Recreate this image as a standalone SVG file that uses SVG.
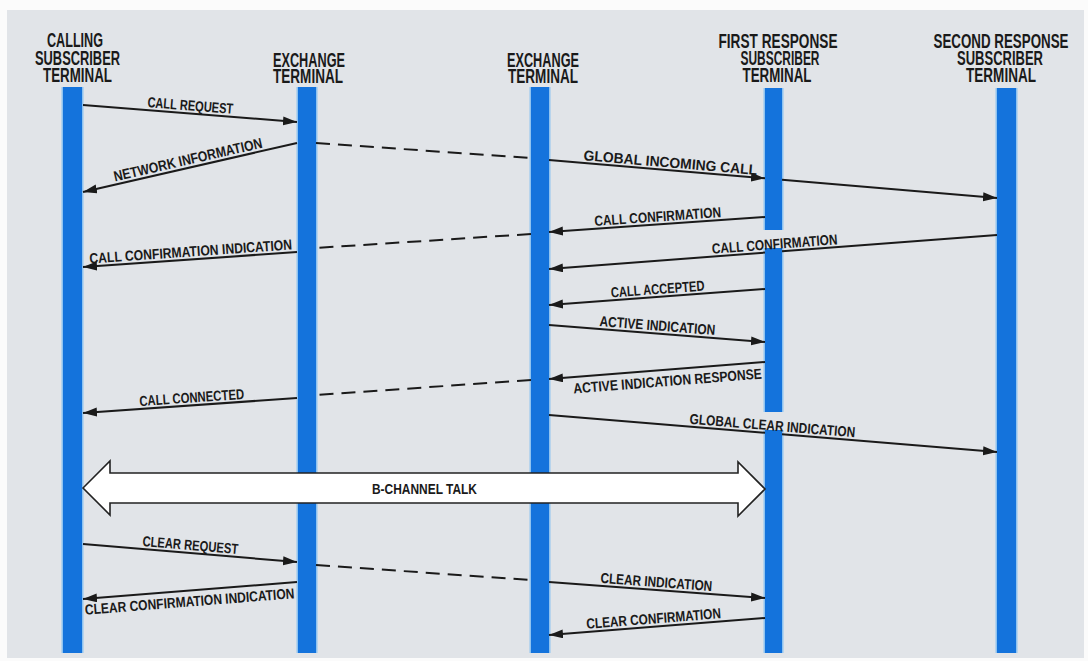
<svg xmlns="http://www.w3.org/2000/svg" width="1088" height="661" viewBox="0 0 1088 661">
<defs>
<style>
.bg{fill:#e1e4e8}
.bar{fill:#1473dc}
.halo{fill:#8fc3f0}
.hdr{font-family:"Liberation Sans Narrow","Liberation Sans",Arial,sans-serif;font-weight:bold;font-size:19.5px;fill:#1a1a1a;text-anchor:middle}
.msg{font-family:"Liberation Sans Narrow","Liberation Sans",Arial,sans-serif;font-weight:bold;font-size:14.5px;fill:#1a1a1a;text-anchor:middle}
.ln{stroke:#1a1a1a;stroke-width:2;fill:none}
.dash{stroke:#1a1a1a;stroke-width:2;fill:none;stroke-dasharray:14 8}
.arr{marker-end:url(#ah)}
</style>
<marker id="ah" markerUnits="userSpaceOnUse" markerWidth="15" markerHeight="10" refX="14" refY="4.5" orient="auto">
<path d="M0,0 L14,4.5 L0,9 Z" fill="#1a1a1a"/>
</marker>
</defs>
<rect width="1088" height="661" fill="#fbfbfb"/>
<rect class="bg" x="7" y="10" width="1077" height="648"/>

<g id="calling">
<text class="hdr"><tspan x="75" y="47" textLength="56" lengthAdjust="spacingAndGlyphs">CALLING</tspan><tspan x="77.5" y="65" textLength="85" lengthAdjust="spacingAndGlyphs">SUBSCRIBER</tspan><tspan x="77.5" y="82" textLength="69" lengthAdjust="spacingAndGlyphs">TERMINAL</tspan></text>
<rect class="halo" x="61.5" y="87" width="22" height="566"/>
<rect class="bar" x="63" y="87" width="19" height="566"/>
</g>
<g id="exchange1">
<text class="hdr"><tspan x="309" y="67" textLength="72" lengthAdjust="spacingAndGlyphs">EXCHANGE</tspan><tspan x="308" y="82.5" textLength="70" lengthAdjust="spacingAndGlyphs">TERMINAL</tspan></text>
<rect class="halo" x="296.5" y="87" width="21" height="566"/>
<rect class="bar" x="298" y="87" width="18" height="566"/>
</g>
<g id="exchange2">
<text class="hdr"><tspan x="543" y="67" textLength="72" lengthAdjust="spacingAndGlyphs">EXCHANGE</tspan><tspan x="543" y="82.5" textLength="70" lengthAdjust="spacingAndGlyphs">TERMINAL</tspan></text>
<rect class="halo" x="529.5" y="87" width="21" height="566"/>
<rect class="bar" x="531" y="87" width="18" height="566"/>
</g>
<g id="first-response">
<text class="hdr"><tspan x="778" y="48" textLength="119" lengthAdjust="spacingAndGlyphs">FIRST RESPONSE</tspan><tspan x="780" y="65" textLength="79" lengthAdjust="spacingAndGlyphs">SUBSCRIBER</tspan><tspan x="777" y="82" textLength="69" lengthAdjust="spacingAndGlyphs">TERMINAL</tspan></text>
<rect class="halo" x="763.5" y="88" width="20" height="142"/>
<rect class="bar" x="765" y="88" width="17" height="142"/>
<rect class="halo" x="763.5" y="248" width="20" height="164"/>
<rect class="bar" x="765" y="248" width="17" height="164"/>
<rect class="halo" x="763.5" y="430" width="20" height="223"/>
<rect class="bar" x="765" y="430" width="17" height="223"/>
</g>
<g id="second-response">
<text class="hdr"><tspan x="1001" y="48" textLength="135" lengthAdjust="spacingAndGlyphs">SECOND RESPONSE</tspan><tspan x="1000" y="65" textLength="86" lengthAdjust="spacingAndGlyphs">SUBSCRIBER</tspan><tspan x="1001" y="82" textLength="70" lengthAdjust="spacingAndGlyphs">TERMINAL</tspan></text>
<rect class="halo" x="995.5" y="88" width="22" height="565"/>
<rect class="bar" x="997" y="88" width="19" height="565"/>
</g>

<g id="connectors">
<line class="ln arr" x1="83" y1="105" x2="297" y2="122"/>
<text class="msg" transform="translate(190,110.5) rotate(4.54)" textLength="86" lengthAdjust="spacingAndGlyphs">CALL REQUEST</text>
<line class="ln arr" x1="297" y1="143" x2="83" y2="192"/>
<text class="msg" transform="translate(189,164.5) rotate(-12.9)" textLength="152" lengthAdjust="spacingAndGlyphs">NETWORK INFORMATION</text>
<line class="dash" x1="316" y1="143" x2="531" y2="158"/>
<line class="ln arr" x1="549" y1="160" x2="765" y2="178.3"/>
<line class="ln arr" x1="782" y1="179.8" x2="997" y2="198"/>
<text class="msg" transform="translate(670,167.5) rotate(4.85)" textLength="174" lengthAdjust="spacingAndGlyphs">GLOBAL INCOMING CALL</text>
<line class="ln arr" x1="765" y1="217" x2="549" y2="232"/>
<text class="msg" transform="translate(658,221.5) rotate(-3.97)" textLength="127" lengthAdjust="spacingAndGlyphs">CALL CONFIRMATION</text>
<line class="dash" x1="531" y1="234" x2="316" y2="248"/>
<line class="ln arr" x1="297" y1="252" x2="83" y2="267"/>
<text class="msg" transform="translate(191,256.5) rotate(-4.0)" textLength="203" lengthAdjust="spacingAndGlyphs">CALL CONFIRMATION INDICATION</text>
<line class="ln" x1="997" y1="235" x2="782" y2="251.3"/>
<line class="ln arr" x1="765" y1="252.6" x2="549" y2="269"/>
<text class="msg" transform="translate(775,249) rotate(-4.34)" textLength="126" lengthAdjust="spacingAndGlyphs">CALL CONFIRMATION</text>
<line class="ln arr" x1="765" y1="289" x2="549" y2="305"/>
<text class="msg" transform="translate(658,294) rotate(-4.24)" textLength="94" lengthAdjust="spacingAndGlyphs">CALL ACCEPTED</text>
<line class="ln arr" x1="549" y1="325" x2="765" y2="342"/>
<text class="msg" transform="translate(657,330.5) rotate(4.5)" textLength="116" lengthAdjust="spacingAndGlyphs">ACTIVE INDICATION</text>
<line class="ln arr" x1="765" y1="362" x2="549" y2="379"/>
<text class="msg" transform="translate(668,386) rotate(-4.5)" textLength="189" lengthAdjust="spacingAndGlyphs">ACTIVE INDICATION RESPONSE</text>
<line class="dash" x1="531" y1="380" x2="316" y2="395"/>
<line class="ln arr" x1="297" y1="398" x2="83" y2="413"/>
<text class="msg" transform="translate(192,402.5) rotate(-4.0)" textLength="105" lengthAdjust="spacingAndGlyphs">CALL CONNECTED</text>
<line class="ln" x1="549" y1="415" x2="765" y2="432.8"/>
<line class="ln arr" x1="782" y1="434.2" x2="997" y2="452"/>
<text class="msg" transform="translate(772,430.5) rotate(4.72)" textLength="166" lengthAdjust="spacingAndGlyphs">GLOBAL CLEAR INDICATION</text>
<polygon points="83,488 110,461 110,473 738,473 738,462 765,489 738,516 738,503 110,503 110,515" fill="#ffffff" stroke="#222222" stroke-width="1.6"/>
<text class="msg" x="372" y="494" style="text-anchor:start" textLength="105" lengthAdjust="spacingAndGlyphs">B-CHANNEL TALK</text>
<line class="ln arr" x1="83" y1="544" x2="297" y2="562"/>
<text class="msg" transform="translate(190,550) rotate(4.8)" textLength="96" lengthAdjust="spacingAndGlyphs">CLEAR REQUEST</text>
<line class="dash" x1="316" y1="565" x2="531" y2="580"/>
<line class="ln arr" x1="549" y1="582" x2="765" y2="598"/>
<text class="msg" transform="translate(656,587) rotate(4.24)" textLength="112" lengthAdjust="spacingAndGlyphs">CLEAR INDICATION</text>
<line class="ln arr" x1="297" y1="582" x2="83" y2="599"/>
<text class="msg" transform="translate(190,606.5) rotate(-4.54)" textLength="210" lengthAdjust="spacingAndGlyphs">CLEAR CONFIRMATION INDICATION</text>
<line class="ln arr" x1="765" y1="618" x2="549" y2="635"/>
<text class="msg" transform="translate(654,623.5) rotate(-4.5)" textLength="135" lengthAdjust="spacingAndGlyphs">CLEAR CONFIRMATION</text>
</g>
</svg>
